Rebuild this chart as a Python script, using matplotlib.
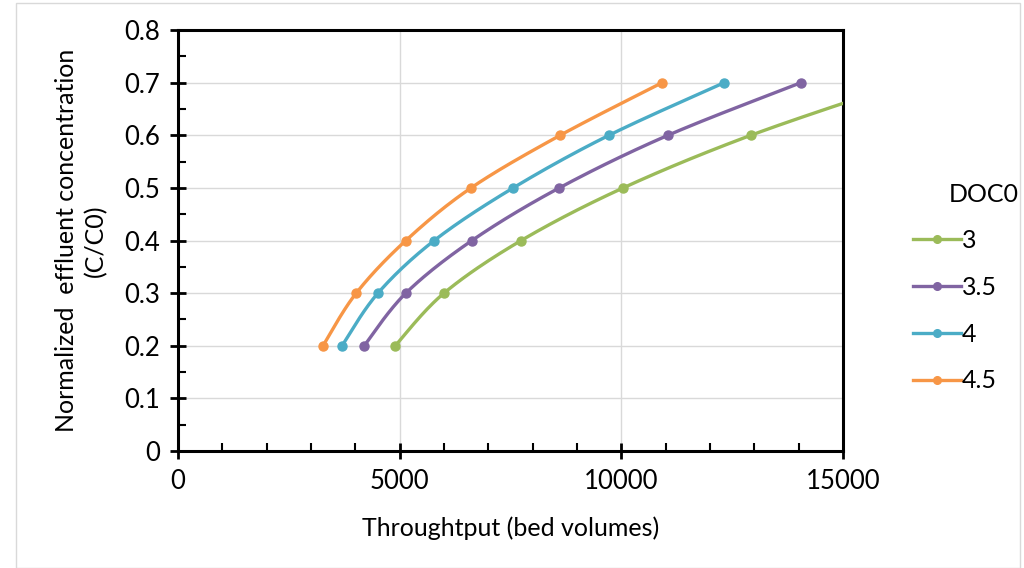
import matplotlib.pyplot as plt
import numpy as np
from matplotlib.lines import Line2D
from matplotlib.patches import Rectangle
from matplotlib.ticker import MultipleLocator

plt.rcParams['font.family'] = ['Lato', 'DejaVu Sans']

# values
conc = [0.2, 0.3, 0.4, 0.5, 0.6, 0.7]
bv_doc3 = [4900, 6000, 7740, 10040, 12920, 16400]
bv_doc35 = [4200, 5140, 6630, 8600, 11050, 14050]
bv_doc4 = [3700, 4510, 5780, 7560, 9720, 12320]
bv_doc45 = [3270, 4020, 5140, 6610, 8620, 10920]
series_labels = ['3', '3.5', '4', '4.5']
colors = ['#9BBB59', '#8064A2', '#4BACC6', '#F79646']


def smooth(x, y, n=30):
    # Catmull-Rom curve through the points, like Excel's smoothed line
    pts = np.column_stack([x, y]).astype(float)
    p = np.vstack([pts[0], pts, pts[-1]])
    out = []
    t = np.linspace(0, 1, n)[:, None]
    for i in range(1, len(p) - 2):
        p0, p1, p2, p3 = p[i - 1], p[i], p[i + 1], p[i + 2]
        c1 = p1 + (p2 - p0) / 6.0
        c2 = p2 - (p3 - p1) / 6.0
        seg = ((1 - t) ** 3 * p1 + 3 * (1 - t) ** 2 * t * c1
               + 3 * (1 - t) * t ** 2 * c2 + t ** 3 * p2)
        out.append(seg)
    out = np.vstack(out)
    return out[:, 0], out[:, 1]


fig = plt.figure(figsize=(10.24, 5.68), dpi=100)
ax = fig.add_axes([0.1738, 0.206, 0.6494, 0.741])

for bv, color in zip([bv_doc3, bv_doc35, bv_doc4, bv_doc45], colors):
    sx, sy = smooth(bv, conc)
    ax.plot(sx, sy, color=color, lw=2.4, zorder=3)
    ax.plot(bv, conc, 'o', color=color, ms=6.5, zorder=4)

ax.set_xlim(0, 15000)
ax.set_ylim(0, 0.8)
ax.xaxis.set_major_locator(MultipleLocator(5000))
ax.xaxis.set_minor_locator(MultipleLocator(1000))
ax.yaxis.set_major_locator(MultipleLocator(0.1))
ax.yaxis.set_minor_locator(MultipleLocator(0.05))
ax.set_yticklabels(['0' if v == 0 else f'{v:.1f}' for v in ax.get_yticks()])
ax.grid(True, which='major', color='#d9d9d9', lw=1, zorder=0)
ax.tick_params(which='major', direction='inout', length=12, width=2, labelsize=18.5, pad=7)
ax.tick_params(which='minor', direction='in', length=6, width=1.5)
for s in ax.spines.values():
    s.set_linewidth(2.2)
    s.set_color('black')

ax.set_xlabel('Throughtput (bed volumes)', fontsize=18, labelpad=16)
ax.set_ylabel('Normalized  effluent concentration\n(C/C0)', fontsize=18,
              labelpad=12, linespacing=1.3)

fig.text(0.927, 0.657, 'DOC0', fontsize=18, ha='left', va='center')
handles = [Line2D([0], [0], color=c, lw=2.4, marker='o', ms=5.5) for c in colors]
leg = fig.legend(handles, series_labels, loc='upper left',
                 bbox_to_anchor=(0.882, 0.614), frameon=False, fontsize=18,
                 handlelength=1.9, handletextpad=0.05,
                 labelspacing=0.95, borderaxespad=0)

fig.patches.append(Rectangle((0.016, 0.0), 0.98, 0.995, transform=fig.transFigure,
                             fill=False, edgecolor='#d9d9d9', lw=1))

fig.savefig('out.png', dpi=100)
